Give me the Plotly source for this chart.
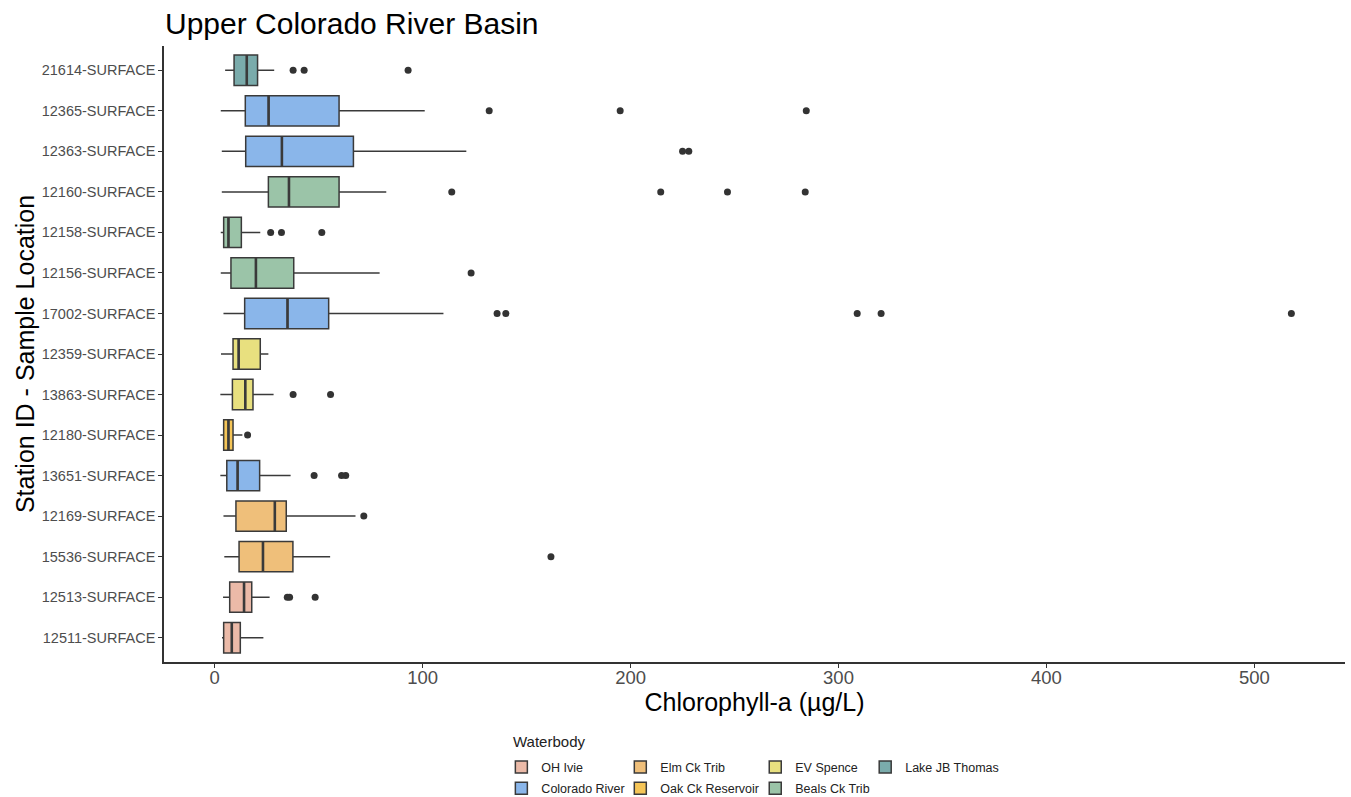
import plotly.graph_objects as go

stations = ["12511-SURFACE", "12513-SURFACE", "15536-SURFACE", "12169-SURFACE", "13651-SURFACE",
            "12180-SURFACE", "13863-SURFACE", "12359-SURFACE", "17002-SURFACE", "12156-SURFACE",
            "12158-SURFACE", "12160-SURFACE", "12363-SURFACE", "12365-SURFACE", "21614-SURFACE"]
waterbody = ["OH Ivie", "OH Ivie", "Elm Ck Trib", "Elm Ck Trib", "Colorado River",
             "Oak Ck Reservoir", "EV Spence", "EV Spence", "Colorado River", "Beals Ck Trib",
             "Beals Ck Trib", "Beals Ck Trib", "Colorado River", "Colorado River", "Lake JB Thomas"]
lower = [3.5, 4.0, 4.6, 4.2, 2.7, 2.7, 2.7, 3.0, 4.2, 2.9, 2.9, 3.4, 3.4, 2.9, 5.0]
q1 = [4.3, 7.2, 11.7, 10.2, 5.8, 4.3, 8.5, 8.8, 14.4, 7.8, 4.3, 25.8, 14.9, 14.7, 9.3]
median = [8.2, 14.1, 23.2, 28.9, 11.0, 6.6, 14.7, 11.5, 35.0, 19.8, 6.6, 35.7, 32.3, 25.9, 15.4]
q3 = [12.3, 17.8, 37.6, 34.4, 21.6, 8.8, 18.4, 21.9, 54.8, 38.0, 12.8, 59.8, 66.7, 59.8, 20.6]
upper = [23.4, 26.4, 55.5, 67.7, 36.5, 13.3, 28.3, 25.8, 110.0, 79.3, 21.9, 82.5, 121.0, 101.0, 28.6]
outliers = {
    "12513-SURFACE": [34.9, 36.0, 48.3],
    "15536-SURFACE": [161.7],
    "12169-SURFACE": [71.7],
    "13651-SURFACE": [47.8, 61.0, 63.0],
    "12180-SURFACE": [15.8],
    "13863-SURFACE": [37.7, 55.7],
    "17002-SURFACE": [135.8, 140.0, 309.0, 320.5, 517.8],
    "12156-SURFACE": [123.3],
    "12158-SURFACE": [26.9, 32.1, 51.5],
    "12160-SURFACE": [114.0, 214.5, 246.6, 284.0],
    "12363-SURFACE": [225.0, 228.0],
    "12365-SURFACE": [132.0, 195.0, 284.5],
    "21614-SURFACE": [37.7, 43.0, 93.0],
}
wb_order = ["OH Ivie", "Colorado River", "Elm Ck Trib", "Oak Ck Reservoir",
            "EV Spence", "Beals Ck Trib", "Lake JB Thomas"]
colors = {
    "OH Ivie": "#EBBAA8",
    "Colorado River": "#8AB6EA",
    "Elm Ck Trib": "#EFBF7A",
    "Oak Ck Reservoir": "#F5C557",
    "EV Spence": "#E8E07F",
    "Beals Ck Trib": "#9BC4A8",
    "Lake JB Thomas": "#7AABAB",
}
legend_of = {"OH Ivie": "legend", "Colorado River": "legend",
             "Elm Ck Trib": "legend2", "Oak Ck Reservoir": "legend2",
             "EV Spence": "legend3", "Beals Ck Trib": "legend3",
             "Lake JB Thomas": "legend4"}

edge = "#3a3a3a"
fig = go.Figure()
for wb in wb_order:
    idx = [i for i, w in enumerate(waterbody) if w == wb]
    ys = [stations[i] for i in idx]
    fig.add_trace(go.Box(
        name=wb, orientation="h", y=ys,
        q1=[q1[i] for i in idx], median=[median[i] for i in idx], q3=[q3[i] for i in idx],
        lowerfence=[lower[i] for i in idx], upperfence=[upper[i] for i in idx],
        fillcolor=colors[wb], line=dict(color=edge, width=1.5),
        whiskerwidth=0, width=0.75, boxpoints=False, legend=legend_of[wb],
        legendgroup=wb, hoverinfo="skip",
    ))
    # thicker median line, drawn as a degenerate box at the median
    med = [median[i] for i in idx]
    fig.add_trace(go.Box(
        name=wb + " median", orientation="h", y=ys,
        q1=med, median=med, q3=med, lowerfence=med, upperfence=med,
        fillcolor="rgba(0,0,0,0)", line=dict(color=edge, width=2.6),
        whiskerwidth=0, width=0.75, boxpoints=False, showlegend=False, hoverinfo="skip",
    ))

ox, oy = [], []
for st, vals in outliers.items():
    for v in vals:
        ox.append(v)
        oy.append(st)
fig.add_trace(go.Scatter(x=ox, y=oy, mode="markers", showlegend=False, hoverinfo="skip",
                         marker=dict(color="#333333", size=7)))

font = "Liberation Sans, Arial, sans-serif"
plot_l, plot_r, plot_t, plot_b = 163.5, 1345, 45.5, 662.5
pw, ph = plot_r - plot_l, plot_b - plot_t


def px_x(p):
    return (p - plot_l) / pw


def px_y(p):
    return (plot_b - p) / ph


leg_common = dict(orientation="v", xref="paper", yref="paper", xanchor="left",
                  yanchor="top", y=px_y(753), font=dict(size=12.5, color="#222", family=font),
                  bgcolor="rgba(0,0,0,0)", tracegroupgap=2, itemwidth=30)
fig.update_layout(
    width=1351, height=797,
    plot_bgcolor="white", paper_bgcolor="white",
    margin=dict(l=plot_l, r=1351 - plot_r, t=plot_t, b=797 - plot_b, autoexpand=False),
    title=dict(text="Upper Colorado River Basin", x=165 / 1351, xanchor="left",
               y=1 - 23 / 797, yanchor="middle", font=dict(size=30, color="black", family=font)),
    font=dict(family=font),
    boxmode="overlay",
    xaxis=dict(range=[-24.4, 543.6], tickvals=[0, 100, 200, 300, 400, 500],
               showgrid=False, zeroline=False, showline=True, linecolor="#333", linewidth=1.5,
               ticks="outside", ticklen=4, tickcolor="#333", ticklabelstandoff=-6,
               tickfont=dict(size=18.5, color="#4d4d4d"),
               title=dict(text="Chlorophyll-a (µg/L)", font=dict(size=25, color="black"), standoff=0)),
    yaxis=dict(categoryorder="array", categoryarray=stations, range=[-0.6, 14.6],
               showgrid=False, zeroline=False, showline=True, linecolor="#333", linewidth=1.5,
               ticks="outside", ticklen=4, tickcolor="#333",
               tickfont=dict(size=14.5, color="#4d4d4d"),
               title=dict(text="Station ID - Sample Location", font=dict(size=25, color="black"), standoff=0)),
    legend=dict(x=px_x(501), **leg_common),
    legend2=dict(x=px_x(620), **leg_common),
    legend3=dict(x=px_x(755), **leg_common),
    legend4=dict(x=px_x(865), **leg_common),
    annotations=[dict(text="Waterbody", xref="paper", yref="paper", showarrow=False,
                      x=px_x(511), y=px_y(742), xanchor="left", yanchor="middle",
                      font=dict(size=15, color="#222", family=font))],
)
fig.write_html("out.html", config={"displayModeBar": False},
               post_script="document.body.style.margin='0';")
